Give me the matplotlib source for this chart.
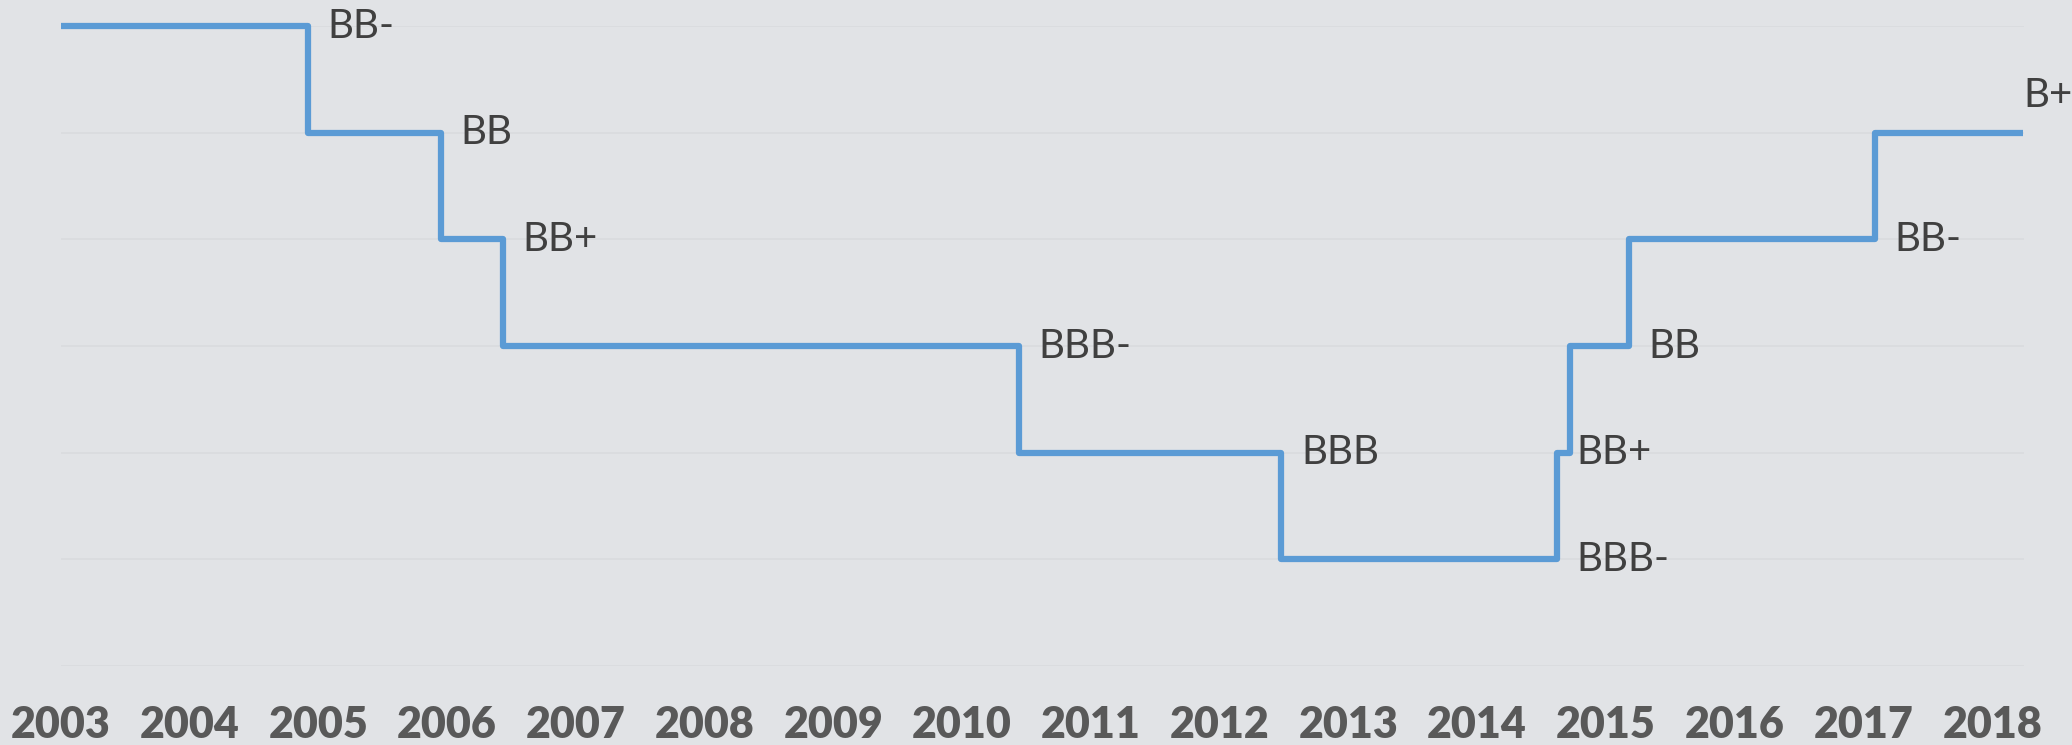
import matplotlib.pyplot as plt

# step dates (fractional years) and rating level at each step (0 = top row)
step_years = [2003.0, 2004.92, 2005.95, 2006.43, 2010.44, 2012.48,
              2014.62, 2014.72, 2015.18, 2017.09, 2018.24]
step_levels = [0, 1, 2, 3, 4, 5, 4, 3, 2, 1, 1]

# rating labels placed next to each change
label_text = ["BB-", "BB", "BB+", "BBB-", "BBB", "BBB-", "BB+", "BB", "BB-", "B+"]
label_years = [2004.92, 2005.95, 2006.43, 2010.44, 2012.48,
               2014.62, 2014.62, 2015.18, 2017.09, 2018.24]
label_levels = [0, 1, 2, 3, 4, 5, 4, 3, 2, 1]

years = list(range(2003, 2019))

bg = "#e1e3e6"
fig = plt.figure(figsize=(20.72, 7.45), dpi=100, facecolor=bg)
ax = fig.add_axes([0.0294, 0.106, 0.977 - 0.0294, 0.965 - 0.106])
ax.set_facecolor(bg)

for lvl in range(7):
    ax.axhline(lvl, color="#d9dbde", lw=1.2, zorder=1)

ax.step(step_years, step_levels, where="post", color="#5b9bd5", lw=4.5,
        solid_joinstyle="round", solid_capstyle="butt", zorder=3,
        clip_on=False)

for txt, x, y in zip(label_text, label_years, label_levels):
    if txt == "B+" and x == label_years[-1]:
        off = (0, 27)
    else:
        off = (14, 0)
    ax.annotate(txt, (x, y), xytext=off, textcoords="offset points",
                ha="left", va="center", fontsize=29, family="Lato",
                color="#404040", zorder=4, annotation_clip=False)

ax.set_xlim(2003, 2018.25)
ax.set_ylim(6, 0)
ax.set_xticks(years)
ax.set_xticklabels([str(y) for y in years], fontsize=31, fontweight="heavy",
                   family="Lato", color="#595959")
ax.tick_params(axis="x", length=0, pad=28)
ax.set_yticks([])
for s in ax.spines.values():
    s.set_visible(False)

fig.savefig("out.png", dpi=100, facecolor=bg)
